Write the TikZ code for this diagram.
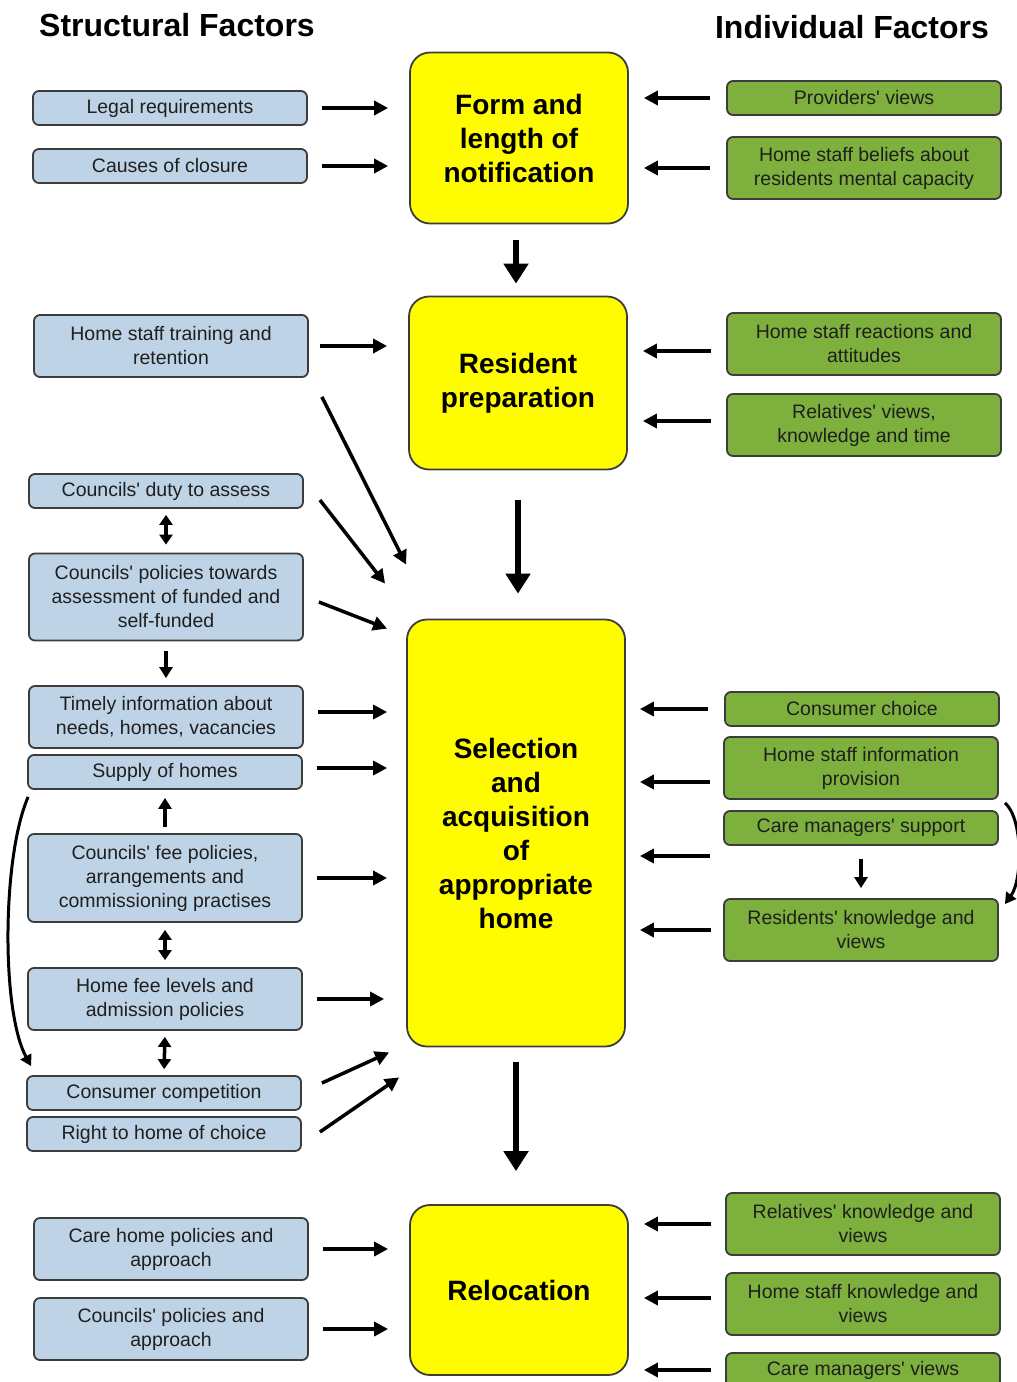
\documentclass[tikz,border=0pt]{standalone}
\usepackage{fontspec}
\setmainfont{Liberation Sans}[Ligatures=TeXOff]
\usetikzlibrary{arrows.meta}
\definecolor{factorblue}{RGB}{190,212,230}
\definecolor{factorgreen}{RGB}{125,176,60}
\definecolor{stageyellow}{RGB}{255,252,0}
\definecolor{boxline}{RGB}{60,60,60}
\tikzset{
  heading/.style={font=\fontsize{32}{38}\selectfont\bfseries},
  sfac/.style={draw=boxline, line width=1.8pt, fill=factorblue, rounded corners=6pt,
    minimum width=274pt, minimum height=34pt, inner sep=2pt, align=center,
    text=black!88, font=\fontsize{19.5}{24}\selectfont},
  ifac/.style={sfac, fill=factorgreen},
  stage/.style={draw=boxline, line width=1.8pt, fill=stageyellow, rounded corners=20pt,
    minimum width=218pt, align=center, font=\fontsize{28}{34}\selectfont\bfseries},
  larr/.style={-{Triangle[length=14pt,width=14pt]}, line width=3.5pt,
    shorten <=14pt, shorten >=21pt},
  rarr/.style={larr, shorten <=16pt, shorten >=15pt},
  farr/.style={-{Triangle[length=14pt,width=14pt]}, line width=3.5pt},
  varr/.style={-{Triangle[length=11pt,width=13pt]}, line width=3.5pt},
  dblarr/.style={{Triangle[length=10pt,width=13pt]}-{Triangle[length=10pt,width=13pt]}, line width=3.5pt},
  bigarr/.style={-{Triangle[length=20pt,width=24pt]}, line width=6pt}
}
\begin{document}
\begin{tikzpicture}[x=1pt, y=-1pt]
\useasboundingbox (0,0) rectangle (1017,1382);
\node[heading] (sfhead) at (177,25) {Structural Factors};
\node[heading] (ifhead) at (852,27) {Individual Factors};
% stages
\node[stage, minimum height=171pt] (notif) at (519,138) {Form and\\length of\\notification};
\node[stage, minimum height=173pt] (prep) at (518,383) {Resident\\preparation};
\node[stage, minimum height=427pt] (select) at (516,833) {Selection\\and\\acquisition\\of\\appropriate\\home};
\node[stage, minimum height=170pt] (reloc) at (519,1290) {Relocation};
%
\draw[bigarr, shorten <=16pt, shorten >=12pt] ([xshift=-3pt]notif.south) -- ([xshift=-3pt]notif.south |- prep.north);
\draw[bigarr, shorten <=30pt, shorten >=25pt] (prep.south) -- (prep.south |- select.north);
\draw[bigarr, shorten <=15pt, shorten >=33pt] (select.south) -- (select.south |- reloc.north);
% structural factors
\node[sfac] (legal) at (170,108) {Legal requirements};
\node[sfac] (closure) at (170,166) {Causes of closure};
\node[sfac, minimum height=62pt] (training) at (171,346) {Home staff training and\\retention};
\node[sfac] (duty) at (166,491) {Councils' duty to assess};
\node[sfac, minimum height=87pt] (towards) at (166,597) {Councils' policies towards\\assessment of funded and\\self-funded};
\node[sfac, minimum height=62pt] (timely) at (166,717) {Timely information about\\needs, homes, vacancies};
\node[sfac] (supply) at (165,772) {Supply of homes};
\node[sfac, minimum height=88pt] (feepol) at (165,878) {Councils' fee policies,\\arrangements and\\commissioning practises};
\node[sfac, minimum height=62pt] (feelev) at (165,999) {Home fee levels and\\admission policies};
\node[sfac] (compet) at (164,1093) {Consumer competition};
\node[sfac] (choiceright) at (164,1134) {Right to home of choice};
\node[sfac, minimum height=62pt] (carepol) at (171,1249) {Care home policies and\\approach};
\node[sfac, minimum height=62pt] (counpol) at (171,1329) {Councils' policies and\\approach};
%
\draw[larr] (legal.east) -- (legal.east -| notif.west);
\draw[larr] (closure.east) -- (closure.east -| notif.west);
\draw[larr, shorten <=11pt] (training.east) -- (training.east -| prep.west);
\draw[larr, shorten >=19pt] ([yshift=5pt]timely.east) -- ([yshift=5pt]timely.east -| select.west);
\draw[larr, shorten >=19pt] ([yshift=4pt]supply.east) -- ([yshift=4pt]supply.east -| select.west);
\draw[larr, shorten >=19pt] (feepol.east) -- (feepol.east -| select.west);
\draw[larr, shorten >=22pt] (feelev.east) -- (feelev.east -| select.west);
\draw[larr] (carepol.east) -- (carepol.east -| reloc.west);
\draw[larr] (counpol.east) -- (counpol.east -| reloc.west);
%
\draw[farr] ([xshift=13pt,yshift=-19pt]training.south east) -- ([yshift=54pt]select.north west);
\draw[farr] ([xshift=16pt,yshift=-9pt]duty.east) -- ([xshift=-21pt,yshift=35pt]select.north west);
\draw[farr] ([xshift=15pt,yshift=-5pt]towards.east) -- ([xshift=-19pt,yshift=-10pt]select.north west);
\draw[farr] ([xshift=20pt,yshift=10pt]compet.east) -- ([xshift=-17pt,yshift=-5pt]select.south west);
\draw[farr] ([xshift=18pt,yshift=2pt]choiceright.east) -- ([xshift=-7pt,yshift=-30pt]select.south west);
%
\draw[dblarr, shorten <=6pt, shorten >=8pt] (duty.south) -- (towards.north);
\draw[varr, shorten <=10pt, shorten >=7pt] (towards.south) -- (timely.north);
\draw[varr, shorten <=6pt, shorten >=8pt] (feepol.north) -- (supply.south);
\draw[dblarr, shorten <=7pt, shorten >=7pt] (feepol.south) -- (feelev.north);
\draw[dblarr, shorten <=6pt, shorten >=6pt] (feelev.south) -- (compet.north);
\draw[-{Triangle[length=11pt,width=12pt]}, line width=3pt]
  ([xshift=1pt,yshift=-7pt]supply.south west) .. controls +(-26,60) and +(-30,-55) .. ([xshift=5pt,yshift=9pt]compet.north west);
% individual factors
\node[ifac] (provviews) at (864,98) {Providers' views};
\node[ifac, minimum height=62pt] (beliefs) at (864,168) {Home staff beliefs about\\residents mental capacity};
\node[ifac, minimum height=62pt] (reactions) at (864,344) {Home staff reactions and\\attitudes};
\node[ifac, minimum height=62pt] (relviews) at (864,425) {Relatives' views,\\knowledge and time};
\node[ifac] (conschoice) at (862,709) {Consumer choice};
\node[ifac, minimum height=62pt] (staffinfo) at (861,768) {Home staff information\\provision};
\node[ifac] (cmsupport) at (861,828) {Care managers' support};
\node[ifac, minimum height=62pt] (resknow) at (861,930) {Residents' knowledge and\\views};
\node[ifac, minimum height=62pt] (relknow) at (863,1224) {Relatives' knowledge and\\views};
\node[ifac, minimum height=62pt] (staffknow) at (863,1304) {Home staff knowledge and\\views};
\node[ifac] (cmviews) at (863,1370) {Care managers' views};
%
\draw[rarr] (provviews.west) -- (provviews.west -| notif.east);
\draw[rarr] (beliefs.west) -- (beliefs.west -| notif.east);
\draw[rarr, shorten <=15pt] ([yshift=-7pt]reactions.west) -- ([yshift=-7pt]reactions.west -| prep.east);
\draw[rarr, shorten <=15pt] ([yshift=4pt]relviews.west) -- ([yshift=4pt]relviews.west -| prep.east);
\draw[rarr, shorten >=14pt] (conschoice.west) -- (conschoice.west -| select.east);
\draw[rarr, shorten <=13pt, shorten >=14pt] ([yshift=-14pt]staffinfo.west) -- ([yshift=-14pt]staffinfo.west -| select.east);
\draw[rarr, shorten <=13pt, shorten >=14pt] ([yshift=-28pt]cmsupport.west) -- ([yshift=-28pt]cmsupport.west -| select.east);
\draw[rarr, shorten <=12pt, shorten >=14pt] (resknow.west) -- (resknow.west -| select.east);
\draw[rarr, shorten <=14pt] (relknow.west) -- (relknow.west -| reloc.east);
\draw[rarr, shorten <=14pt] ([yshift=6pt]staffknow.west) -- ([yshift=6pt]staffknow.west -| reloc.east);
\draw[rarr, shorten <=14pt] (cmviews.west) -- (cmviews.west -| reloc.east);
%
\draw[varr, shorten <=13pt, shorten >=10pt] (cmsupport.south) -- (resknow.north);
\draw[-{Triangle[length=11pt,width=12pt]}, line width=3pt]
  ([xshift=6pt,yshift=-3pt]staffinfo.south east) .. controls +(18,15) and +(18,-25) .. ([xshift=6pt,yshift=-6pt]resknow.north east);
\end{tikzpicture}
\end{document}
